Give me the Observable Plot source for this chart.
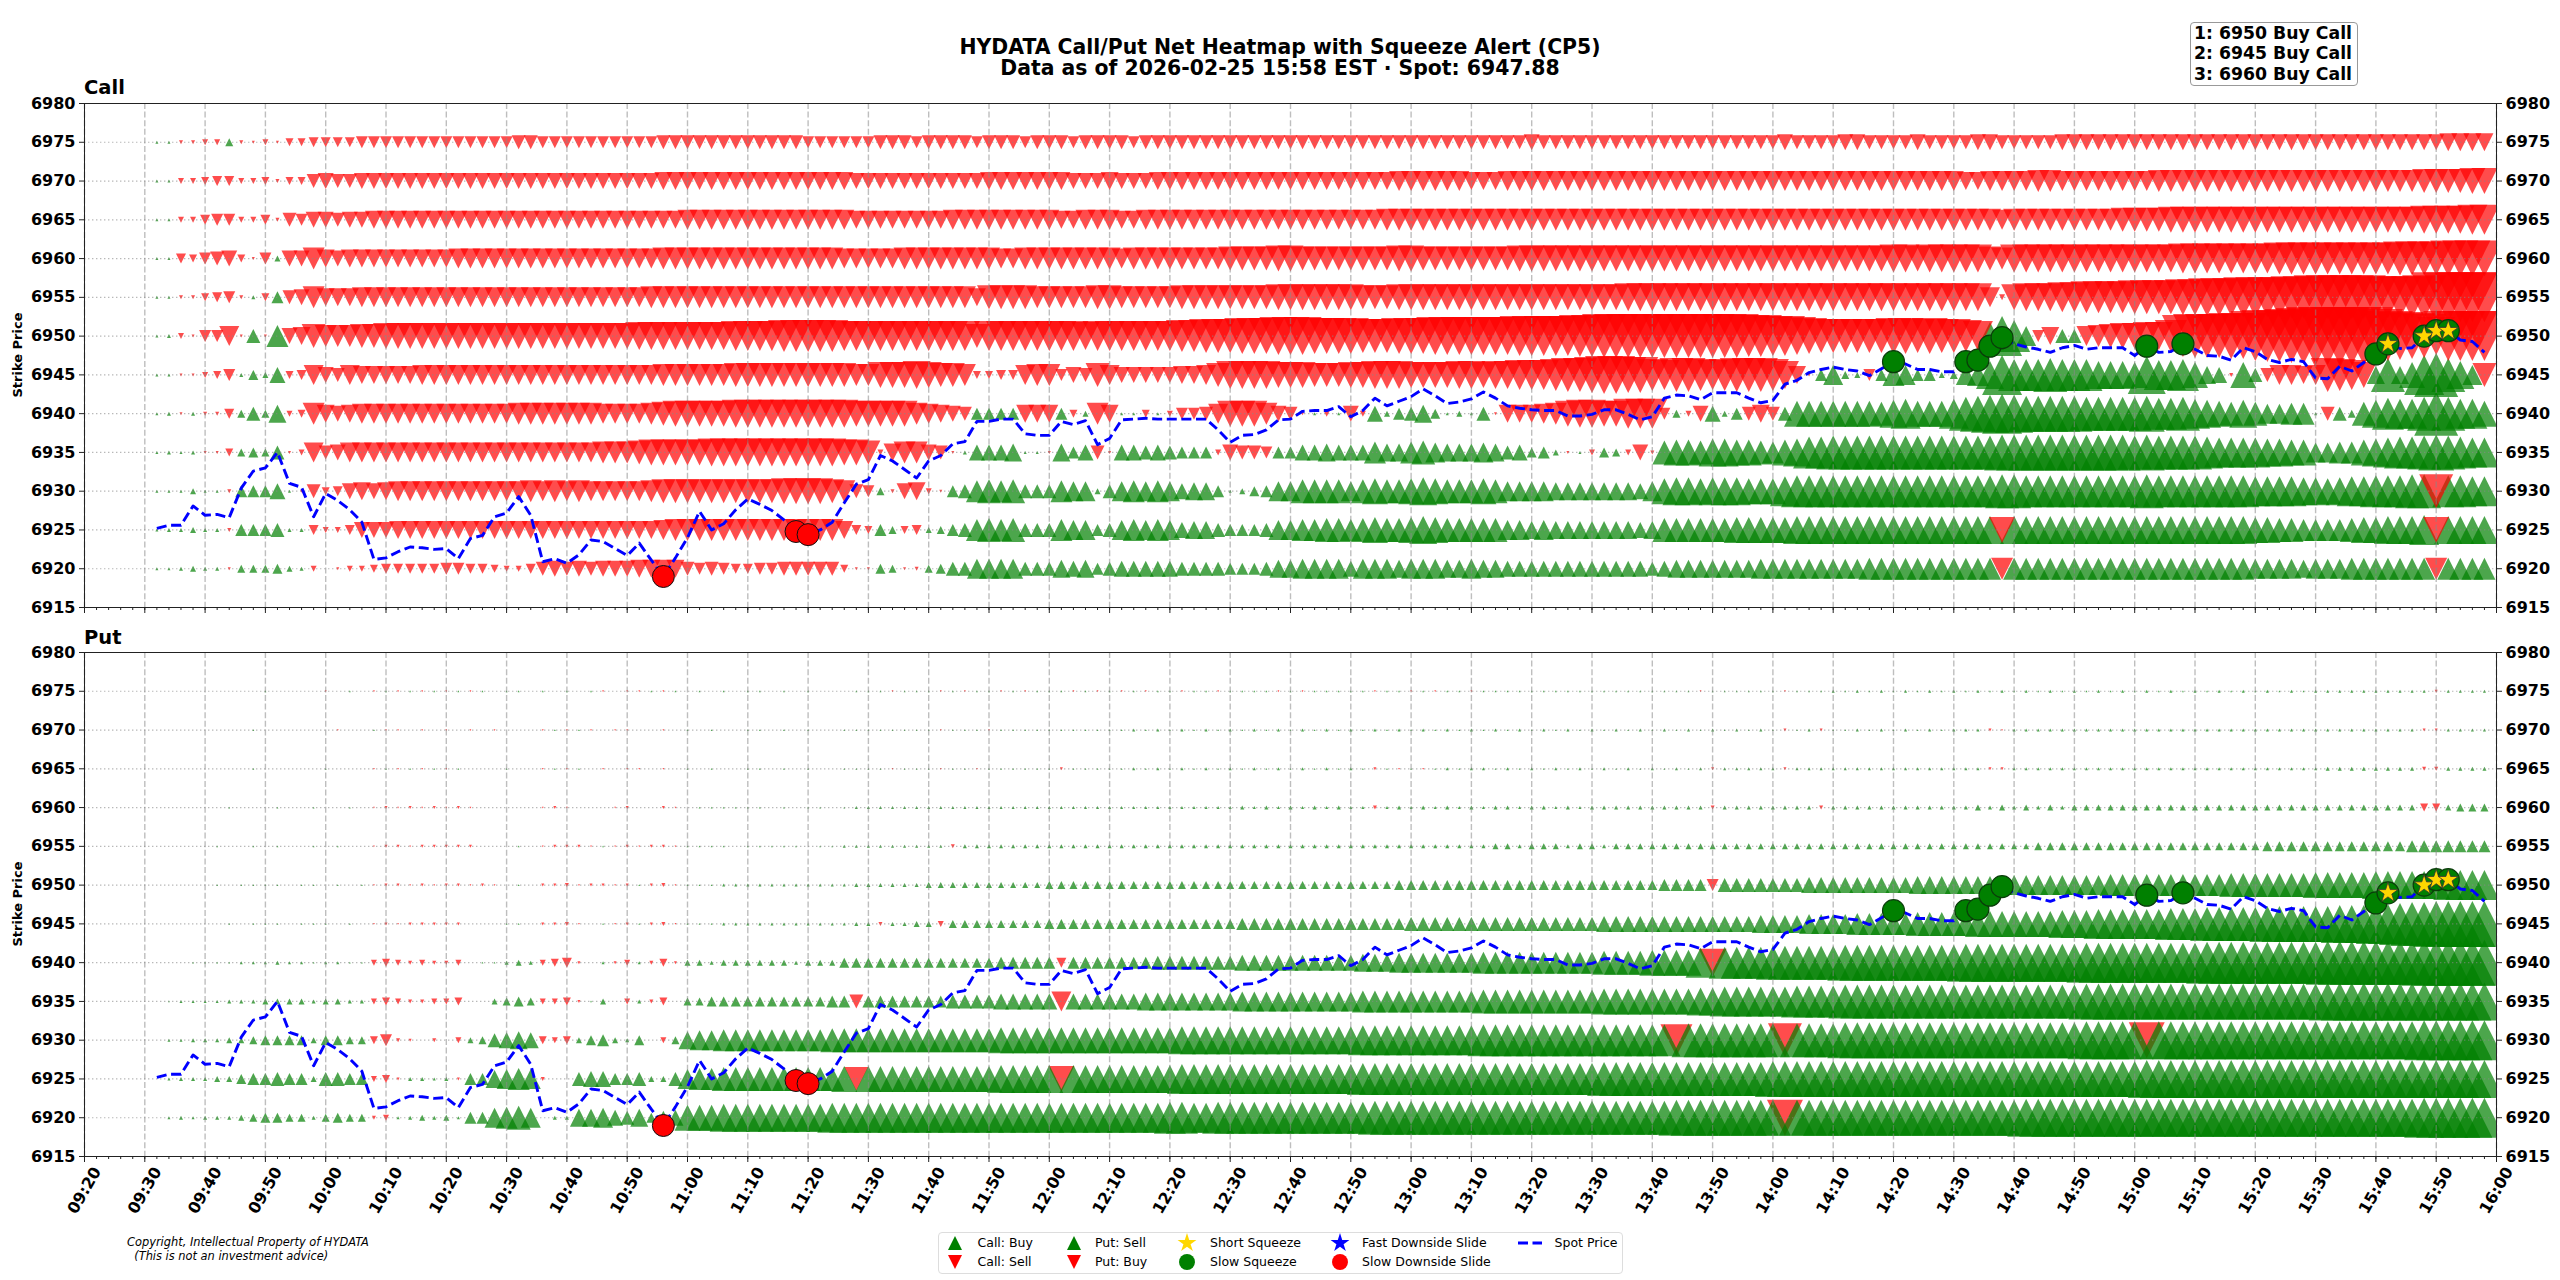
<!DOCTYPE html>
<html>
<head>
<meta charset="utf-8">
<script src="https://cdn.jsdelivr.net/npm/d3@7"></script>
<script src="https://cdn.jsdelivr.net/npm/@observablehq/plot@0.6"></script>
<style>
html,body{margin:0;padding:0;background:#fff;}
#page{position:relative;width:2560px;height:1280px;overflow:hidden;font-family:"DejaVu Sans",sans-serif;color:#000;}
.abs{position:absolute;white-space:pre;z-index:2;}
#page svg.plot{position:absolute;left:0;background:transparent;}
</style>
</head>
<body>
<div id="page"></div>
<script>
// ---- axes ----
const strikes = [6975,6970,6965,6960,6955,6950,6945,6940,6935,6930,6925,6920];
const strikeTicks = [6915,6920,6925,6930,6935,6940,6945,6950,6955,6960,6965,6970,6975,6980];
const labelTicks = d3.range(560, 961, 10);   // minutes after midnight, 09:20 .. 16:00
const minorTicks = d3.range(560, 961, 2);
const times = d3.range(572, 959, 2);         // 09:32 .. 15:58, every 2 minutes

// ---- spot price, one row per 20 minutes ----
const spot = [
6925.2,6925.6,6925.6,6928.1,6926.9,6927,6926.6,6930.4,6932.6,6933,
6935,6931,6930.5,6926.7,6929.7,6928.8,6927.6,6926,6921.2,6921.4,
6922.2,6922.8,6922.7,6922.5,6922.6,6921.3,6923.9,6924.3,6926.7,6927.2,
6929.3,6926.9,6920.9,6921.3,6920.7,6921.8,6923.7,6923.5,6922.6,6921.7,
6923.3,6921.1,6919,6921.4,6924,6927.4,6925,6925.8,6927.6,6929,
6928.3,6927.5,6926.3,6924.8,6924.4,6925,6926,6928.5,6930.9,6931.5,
6934.6,6933.9,6932.8,6931.7,6933.9,6934.6,6936.1,6936.4,6939,6939,
6939.3,6939.3,6937.4,6937.2,6937.2,6939,6938.6,6939.1,6936,6936.8,
6939.2,6939.3,6939.4,6939.3,6939.3,6939.3,6939.3,6939.3,6937.9,6936.3,
6937.2,6937.3,6937.9,6939.2,6939.3,6940.3,6940.4,6940.4,6940.9,6939.6,
6940.4,6942,6941,6941.6,6942.2,6943.2,6942.3,6941.3,6941.5,6941.9,
6942.8,6942,6941,6940.7,6940.5,6940.4,6940.4,6939.7,6939.7,6939.9,
6940.5,6940.5,6939.9,6939.2,6939.6,6942,6942.4,6942.3,6941.8,6942.7,
6942.7,6942.7,6942,6941.4,6941.7,6943.8,6944.3,6945.3,6945.7,6946,
6945.7,6945.5,6944.9,6945.8,6946.7,6946.4,6945.7,6945.7,6945.4,6945.4,
6946.7,6946.9,6948.7,6949.8,6949,6948.6,6948.3,6947.9,6948.5,6948.8,
6948.3,6948.5,6948.5,6948.5,6947.5,6948.7,6947.9,6948,6949,6948.3,
6947.5,6947.4,6946.9,6948.5,6948,6947,6946.6,6947,6946.7,6944.6,
6944.5,6946.1,6945.5,6946.6,6947.7,6949,6948.4,6948.5,6950,6950.7,
6950.7,6949.5,6949.3,6947.9];

// ---- alerts (minutes after midnight) ----
const slowSqueeze = [860,872,874,876,878,902,908,940,942,948,950,952];
const shortSqueeze = [942,948,950,952];
const slowSlide = [656,678,680];

// ---- net flow per strike. One letter per 2-minute bar, one block per 20 minutes.
// Upper case = buy side (green up), lower case = sell side (red down); the letter is the
// size class (a=1 ... z=26, 1-4 = 27-30), + and - are barely visible.
const call6975="AAbbccDbac addeeeefff ffffffffff ggffffffff ffgggggggg ggggffffff gggfggggfg ggfgggfggg gfgggggggg gggggggggg gggggggggg gggghggggg gggggggggg ggggghgggg hhgggghggg ghhggggghh hhhhhhhhhh hhhhhhhhhh hhhhhhhhhh iiii";
const call6970="AAccdeeccd bddghgghhh hhhhhhhhhh hhhhhhhhhh hhiiiiiiii iiiiiiiihh hhhhhhhhhi iiiiiihhhi hhhiiiiiii iiiiiiiiii iiijjjjjji iijjjjjjjj jjjjjjjjjj jjjjjjjjjj jjjjjjjjjj iijjjjkkjj jjjjjjkkkk kkkkkkkkkk kkkkkkkkll llmm";
const call6965="AAcceffcce bgfhhghhii iiiiiiiiii iiiiiiiiii iiiijjjjjj jjjjjjjjii iiiiiijjjj jjjjjiijjj iijjjjjjjj jjjjjjjjjj jjkkkkkkkk kkkkkkkkkk kkkkkkkkkk kkkkkkkkkk kkkkkkkkkk kkkjkkkkkk kkkllllmmm mmmmmmmmmm mmmmmmmmnn nnoo";
const call6960="AAedfghdaf Chhkihiiii iiiiijjjjj jjjjjjjjjj jjkkkkkkkk kkkkkkkjjj jjkkkkkkkk jjkkkkkkkk jkkkkkkkkl lllmmlllll lllmmlllll lllmmmmmmm mmmmmmmmmm mmmmmmmmmm mmmmnnmnnn nnlknnnnnn nnnnnnnnoo oooooopppp ppppppqqqq rrrr";
const call6955="AAbbdefbBd Fghkiiijjj jjjjjjjjjj jjjjjjjjjj jkkkkkkkkk kkkkkkkkkk kkkkkkkkil lllkkkkkll kkkkklllll lllmmmmmmm lllmmmmmmm mmmmmmmmmm mmnnnnnnnn nnnnnnnnnn nnnnnnnnnn nnjcmnnnoo ppppqqqqrr sssttttuuv vvvvuuuuvy yyyy";
const call6950="ABcaffjaGa Khilkkkllm mmmmmmmmmm mmmmmmmmmm nnnnnnnnoo oopppppooo oooooooolo ooooooonoo oooooppqqq rrrsssrrrr qqqrrrssss ssstttttuu vvvvvvvvvv vvuuttsrqq qqqqrrqrqq poNTPJfiGG jklmmnnpuv vvwwyzz123 33331yxwvs yyyy";
const call6945="AAaacdfBEC Hdejhgjiii iijjjjjjjj jjjjjjjjjj jjkkkkkkll llllllllkk mmmnmllkdd eejkkfhglj hhhhhiijln nnnmmmlllm mnnnmmmmnn mnnooopqqr ssrrpoqqpo pqqqpniaFJ DCfFKJFFCD JKNTPPPQPP PNNNMSOOPM IHbMGgjjij qpomIQIMTV QNJl";
const call6940="ABaBbbeDGD Icdkihijjj jjjjjjjjjj kkkkkkkjjj jklmmmmmnn nnnnnnnnmm mmmkjihgFF FFiiiFdCki AAdAcffgjm mmkhgaAcAh cHCFGIEACA Gaiiijkmnn mmooofDchH CFgigGMMMM MMMLNOMMMO QRSTSRRRRR QQQQQRPPQO NMLNLJJKKA gGDLNPOOQV QOOM";
const call6935="ABABaadDED Gacjghjjjj jjjjjjjjjj jjjjjjjkkk lmmmmmnnnn nnnnnnnmml cikkhgaBHH HIAAaIFHga HHGHGFFFch ggfFFHHIHH HKIIKLJIII JIGHEFCaAc EDchbLMMLN NMMLKMNPPQ QQQQQQQQQQ QQQRRRRRRR RRRRQRQQQQ POOOONNMMJ JKKMNOPPQR QPOO";
const call6930="AAACAAbFFF HAagdehihi jjjjjjjjjj jkjkjkjjjj jkllllllll llmmmmlkgf DbhicaFGKL KLGGGKJJCG JKJKJHIIFA CEFJJLLLLJ LMLLMNMLLL MLJJJJIIII IIIHJMNNMN NNMMMOPPPP PPPPPPPPPP PPPQQPPPPP PPPPPQPPPP PPPPOOOONN MNOOPPPQQq PPOO";
const call6925="ABBCBBbFFF GBBeccehhh iiiiiiiiii iiiiiiiiii iijkkkkkkk kkkkkkkied FDdeCDFGKL KLGGGKJJFG JKJKJHIIGF FFGJJKKLLK LMLLMNMLLL LLJJIJIIII IIIHILLLLL LMMMMMNNNN NNNNNNNNNN NNNmNNNNNN NNNNNNNNNN NNNNMMLLKK KKLMMNNNOm NNNN";
const call6920="AABCBBaDDD ECBc.accde eeeeffeedc ceghghghhh iiiigfgfee ffgggggdaa EDabDEGGJJ JJGGGIHIFG HHHHHGGGGF FFGIIJJJJH JJJIJJJIIJ IIHHHHHHHH HHHHGHIIII IIIJJJJJJJ JJKKKKKKKK KKKkKKKKKK KKKKKKKKKK KKKKJJJJIJ JJKKKKKKKk KKKK";

const put6975=".........+ ....-.+.-+ -+-+-+-+.+ +.+.+.+-.- -+-+.+.+.+ +.+.+...++ +-+++-+-++ -+-+++-+-+ -+-++-++-+ +++-+-++++ +-++-+-++- ++++++++++ ++++++++-+ +++++-+++A +A+A+A+A+A +A+A+A+A+A +A+A+A+A+A +A+A+A+A+A AAAAAAAAAa AAAA";
const put6970="........+. .....-..+- -.-.-.-.-. ..-+-+-.-- ..-.+.+..+ +.+.+..+++ +++++-+++- ++++++++++ +A+A+A+A+A +A+A+A+A+A +A+A+A+A+A +A+A+A+A+A +A+A+A+A+A +A+A+a+Aa+ +A+A+A+A+A AAa-AAAAAA AAAAAAAAAA AAAAAAAAAA AAAAAAAAaa AAAA";
const put6965="........+. ....+...-+ -+-+-+...+ ..-+-+.-.- -.-.+.+..+ +.+.+..+++ +-+++-++-+ +++++a++++ +A+A+A+A+A +A+A+A+A+A +a+-+-+A+A A+A+A+A+A+ A+A+A+A+Aa AAAAAaAAAA AAAAAAAAAA AAaaAAAAAA AAAAAAAAAA AAAAAAAAAA BBBBBBBBbb BBBB";
const put6960="......+... +..+..+.-a -a-a-a-... ..-a-...-a ..a-.+++++ +.+.++.+AA AAAAAAAAAA AAAAAAAAAA AAAAAAAAAA BABABABABA AbABABABAB ABBABBABAB BBBBBBBBBb BBBBBBBBbB BBBBBBBBBB BCBCBCBCBC CCCCCCCCCC CCCCCCCCCC CCCCCCCCdd CDDD";
const put6955=".....+..+. +..+.+..-a a-aaaaa... +.-aaa-+-a -aa-++++.+ ++++.++AAA AAAAAAbBBB BBBBBBBBBB BBBBBBBBBB BBBBBBBBBB BBBBBBBBBB BCCBCCCBCC BCCCCCCCCC CCCCCCCCCC CCCCCCCCCC CCCCCCDDDD DDDDDDDDDD DDDDDEEEEE EEEEEEEFFF FFFF";
const put6950=".....+.+++ +.++.+.+-a a-a-aa-a-. +.aab-aa-a +ab-+++AAA AAAAAAAABB BBBBCCCCCC CCCCDDDDDD DDDDDDDDDD DDDDDDDDDD DDDEEEEEEE EEEEEEEEEE EEEEEFFFFf GGGGGGGHHH HHHHHHIIII IIIJJJJJJJ JJKKKKKKKK KKLLLLLLLM MMMMNNNNNN OOOO";
const put6945="......+.++ +.+++.+.-a -aaaaa...+ +.aab-.+-a +ab-+++AAA AAAAAAAABB bBBCCcDDDD DDDDEEEEEE EEEEEEEEEE FFFFFFFFFF FFFFGGGGGG GGGGGGGGGG HHHHHHHHHH HHHIIIIJJJ JKKKKKLLLL LMMMMMMMNN NOOOOOOPPP QQQQQRRRRR RSSSTTUVVW WWWW";
const put6940="...++++AAA BAA+AA++cd cbcbbc.++B CBcdea.Aac AbdaCCBCCC CCCBCCCEEE EEEEEEEEEE FFFFFeFFFF FFFGGGGGGG HHHHHHHHHH IIIJJJJJJJ KKKKKKKKKK LLLLMMMMOn PPPPQQQQQQ RRRRRRRRRR SSSSSSSSSS TTTTTTTTTT UUUUUUUUUU VVVVVVVVWW WWWW";
const put6935=".+AAAABBBC CCCBCCBBcd cbbccd..CD EDccda+C.c Bbd.DDEEEE EEEEEEFFgF FFFFFFGGGG HHHHHjHHHH HHIIIIIIII JJJJJJJJJJ KKKKKKKKKK LLLLLLLLLL MMMMMMMMNN OOOOOOPPPP QQQQQQQQQQ QQQQQQQQQQ RRRRRRRRRR RRRRRRRRRR SSSSSSSSSS SSSS";
const put6930=".AABBBCCDE EEECEEDDdf ba.b.cCDGH IHdcdCEFCB E.cDIJJKKK KKKKKKLLLL LLLLLLLLLL MMMMMMMMMM MMMMMNNNNN NNNNNNNNNN OOOOOOOOOO PPPPPPPPPP PPPPPPpQQQ QQQQQqQQQQ RRRRRRRRRR RRRRRRRRRR SSSSSrSSSS SSSSSSSSSS SSSSSSSSTT TTTT";
const put6925=".ABBBCCEFF GFFCGGFFcd aBBABaFFIJ KJb..GHHFF GCCGJKKLLL LLLLLLLMlM MMMMMMMMMM NNNNNmNNNN NNNNNOOOOO OOOOOOOOOO PPPPPPPPPP PPPPPPPPPP QQQQQQQQQQ QQQQRRRRRR RRRRRRRRRR RRRRRRRRRR RRRRRSSSSS SSSSSSSSSS SSSSSSSSSS SSSS";
const put6920=".ABABBBCDE EDDBDEDDbc ABCBCAFFJK LJ.BBIIJHG IEGHMMMNNN NNNNNNOOOO OOOOOOOOOO OOOOOOOOOO OOOOPPOOPP PPPPPPPPPP PQQQQQQQQQ QQQQQQQQQQ QQQQQQRRRR RRRRRrRRRR RRRRRRRRRR RRRRRSSSSS SSSSSSSSSS SSSSSSSSSS SSSSSSSSTT TTTT";

const callRows = [call6975,call6970,call6965,call6960,call6955,call6950,call6945,call6940,call6935,call6930,call6925,call6920];
const putRows  = [put6975,put6970,put6965,put6960,put6955,put6950,put6945,put6940,put6935,put6930,put6925,put6920];

// ---- decode ----
function charSize(c){
  if(c==="."||c===" ") return 0;
  if(c==="+") return 0.9;
  if(c==="-") return -0.9;
  if(c==="a") return -1.5;
  if(c==="A") return 1.5;
  if(c>="a"&&c<="z") return -(c.charCodeAt(0)-96);
  if(c>="A"&&c<="Z") return c.charCodeAt(0)-64;
  if(c>="1"&&c<="4") return -(26+Number(c));
  return 0;
}
function table(rows){
  const out=[];
  rows.forEach((row,ri)=>{
    const cells=row.split(" ").flatMap(g=>Array.from(g.padEnd(10,".").slice(0,10)));
    times.forEach((t,i)=>{
      const s=charSize(cells[i]||".");
      if(s!==0) out.push({t,strike:strikes[ri],net:Math.sign(s)*s*s});
    });
  });
  return out;
}
const spotRows = times.map((t,i)=>({t,spot:spot[i]}));
const at = ts => ts.map(t=>({t,spot:spot[times.indexOf(t)]}));

// ---- markers ----
const triUp={draw(c,s){const r=Math.sqrt(s/Math.PI);c.moveTo(0,-r);c.lineTo(r,r);c.lineTo(-r,r);c.closePath();}};
const triDown={draw(c,s){const r=Math.sqrt(s/Math.PI);c.moveTo(0,r);c.lineTo(-r,-r);c.lineTo(r,-r);c.closePath();}};
const pad=n=>String(n).padStart(2,"0");
const hhmm=m=>pad(Math.floor(m/60))+":"+pad(m%60);

function panel(rows,{top,height,marginTop,marginBottom,greenFirst,labels}){
  const data=table(rows);
  const mk=(sign,sym,col)=>Plot.dot(data.filter(d=>Math.sign(d.net)===sign),{
    x:"t",y:"strike",r:d=>Math.abs(d.net),symbol:sym,fill:col,fillOpacity:0.7,clip:true
  });
  const green=mk(1,triUp,"#008000"), red=mk(-1,triDown,"#ff0000");
  const svg=Plot.plot({
    width:2560,height,marginLeft:84,marginRight:64,marginTop,marginBottom,
    style:{fontFamily:"'DejaVu Sans'",fontWeight:"bold",fontSize:"16px",background:"transparent",color:"#000"},
    x:{type:"linear",domain:[560,960],axis:null},
    y:{type:"linear",domain:[6915,6980],axis:null},
    r:{type:"sqrt",domain:[0,900],range:[0,30]},
    marks:[
      ...(greenFirst?[green,red]:[red,green]),
      Plot.ruleY(strikes,{stroke:"#888",strokeOpacity:0.6,strokeWidth:1.2,strokeDasharray:"1.4 2.6"}),
      Plot.ruleX(labelTicks,{stroke:"#888",strokeOpacity:0.55,strokeWidth:1.4,strokeDasharray:"6 2.6"}),
      Plot.frame({stroke:"#222",strokeWidth:1}),
      Plot.axisX({ticks:minorTicks,tickSize:3,fill:"none",stroke:"#222",label:null}),
      labels
        ?Plot.axisX({ticks:labelTicks,tickSize:6,tickRotate:-60,textAnchor:"middle",lineAnchor:"middle",tickPadding:28,tickFormat:hhmm,stroke:"#222",label:null})
        :Plot.axisX({ticks:labelTicks,tickSize:6,fill:"none",stroke:"#222",label:null}),
      Plot.axisY({anchor:"left",ticks:strikeTicks,tickSize:5,tickFormat:"d",stroke:"#222",label:null}),
      Plot.axisY({anchor:"right",ticks:strikeTicks,tickSize:5,tickFormat:"d",stroke:"#222",label:null}),
      Plot.line(spotRows,{x:"t",y:"spot",stroke:"#0000ff",strokeWidth:2.9,strokeDasharray:"10 4.6",strokeLinecap:"butt"}),
      Plot.dot(at(slowSlide),{x:"t",y:"spot",r:11,fill:"#ff0000",stroke:"#111",strokeWidth:1,sort:null}),
      Plot.dot(at(slowSqueeze),{x:"t",y:"spot",r:11,fill:"#008000",stroke:"#0a3d0a",strokeWidth:1.2,sort:null}),
      Plot.dot(at(shortSqueeze),{x:"t",y:"spot",r:6.3,symbol:"star",fill:"#ffd700",stroke:"#333",strokeWidth:0.8,sort:null})
    ]
  });
  svg.style.top=top+"px";
  return svg;
}

const page=document.getElementById("page");
page.append(panel(callRows,{top:0,height:620,marginTop:103,marginBottom:13,greenFirst:true,labels:false}));
page.append(panel(putRows,{top:620,height:660,marginTop:32,marginBottom:124,greenFirst:false,labels:true}));

// ---- text ----
function text(str,css){
  const el=document.createElement("div");
  el.className="abs";el.textContent=str;
  Object.assign(el.style,css);page.append(el);return el;
}
text("HYDATA Call/Put Net Heatmap with Squeeze Alert (CP5)",{left:"0",width:"2560px",textAlign:"center",top:"36px",fontSize:"20.4px",fontWeight:"bold",lineHeight:"22px"});
text("Data as of 2026-02-25 15:58 EST · Spot: 6947.88",{left:"0",width:"2560px",textAlign:"center",top:"57px",fontSize:"20.4px",fontWeight:"bold",lineHeight:"22px"});
text("Call",{left:"84px",top:"76px",fontSize:"19.5px",fontWeight:"bold",lineHeight:"24px"});
text("Put",{left:"84px",top:"626px",fontSize:"19.5px",fontWeight:"bold",lineHeight:"24px"});
const rot=(cy)=>({left:"18px",top:cy+"px",fontSize:"13px",fontWeight:"bold",lineHeight:"14px",transform:"translate(-50%,-50%) rotate(-90deg)"});
text("Strike Price",rot(355));
text("Strike Price",rot(904));
const box=text("1: 6950 Buy Call\n2: 6945 Buy Call\n3: 6960 Buy Call",{left:"2190px",top:"22px",width:"168px",height:"64px",boxSizing:"border-box",border:"1px solid #999",borderRadius:"4px",background:"#fff",fontSize:"17.3px",fontWeight:"bold",lineHeight:"20.4px",paddingLeft:"3px",paddingTop:"0px"});
text("Copyright, Intellectual Property of HYDATA\n  (This is not an investment advice)",{left:"127px",top:"1236px",fontSize:"11.4px",fontStyle:"italic",lineHeight:"13.5px"});

// ---- legend ----
const legendBox=document.createElement("div");
legendBox.className="abs";
Object.assign(legendBox.style,{left:"938px",top:"1232px",width:"685px",height:"42px",boxSizing:"border-box",border:"1px solid #ddd",borderRadius:"4px",background:"#fff"});
page.append(legendBox);
function swatch(x,y,svgInner){
  const ns="http://www.w3.org/2000/svg";
  const s=document.createElementNS(ns,"svg");
  s.setAttribute("width",40);s.setAttribute("height",20);
  s.style.cssText=`position:absolute;left:${x-20}px;top:${y-10}px;z-index:3;overflow:visible`;
  s.innerHTML=svgInner;page.append(s);
}
const path=(sym,size,fill)=>`<path transform="translate(20,10)" d="${d3.symbol(sym,size)()}" fill="${fill}"/>`;
const legendEntries=[
 [955,977.5,1243,"Call: Buy",path(triUp,154,"#008000")],
 [955,977.5,1262,"Call: Sell",path(triDown,154,"#ff0000")],
 [1073.5,1095,1243,"Put: Sell",path(triUp,154,"#008000")],
 [1073.5,1095,1262,"Put: Buy",path(triDown,154,"#ff0000")],
 [1187,1210,1243,"Short Squeeze",path(d3.symbolStar,110,"#ffd700")],
 [1187,1210,1262,"Slow Squeeze",path(d3.symbolCircle,200,"#008000")],
 [1340,1362,1243,"Fast Downside Slide",path(d3.symbolStar,110,"#0000ff")],
 [1340,1362,1262,"Slow Downside Slide",path(d3.symbolCircle,200,"#ff0000")],
 [1530,1554.6,1243,"Spot Price",`<line x1="8" x2="32" y1="10" y2="10" stroke="#0000ff" stroke-width="3" stroke-dasharray="10 4.5"/>`]
];
legendEntries.forEach(([mx,tx,y,label,svg])=>{
  swatch(mx,y,svg);
  const t=text(label,{left:tx+"px",top:(y-8)+"px",fontSize:"12.5px",lineHeight:"16px"});
  t.style.zIndex=3;
});
</script>
</body>
</html>
